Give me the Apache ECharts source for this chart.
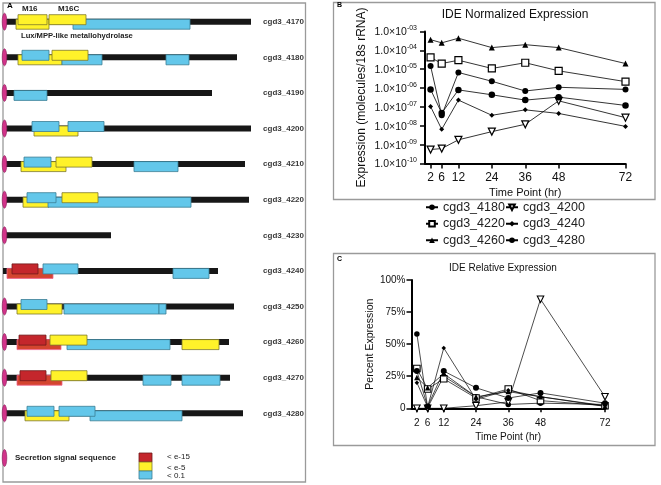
<!DOCTYPE html>
<html><head><meta charset="utf-8">
<script src="https://cdn.jsdelivr.net/npm/echarts@6/dist/echarts.min.js"></script>
<style>html,body{margin:0;padding:0;background:#fff}#c{width:661px;height:485px}</style>
</head><body><div id="c"></div>
<script>
// ---------- Panel A: gene diagrams ----------
const genes = ['cgd3_4170','cgd3_4180','cgd3_4190','cgd3_4200','cgd3_4210','cgd3_4220','cgd3_4230','cgd3_4240','cgd3_4250','cgd3_4260','cgd3_4270','cgd3_4280'];
const backboneStart = [0,0,0,0,0,0,0,-2,0,0,0,0];
const backboneEnd   = [246,232,207,246,240,244,106,213,229,224,225,238];
const signalRows = [0,1,2,3,4,5,6,8,9,10,11];
// [start, end, geneRow, class] class: 0 = < e-15, 1 = < e-5, 2 = < 0.1
const lowerDomains = [
  [11,44,0,1],[68,185,0,2],
  [13,57,1,1],[57,97,1,2],[161,184,1,2],
  [9,42,2,2],
  [29,73,3,1],
  [16,61,4,1],[129,173,4,2],
  [18,44,5,1],[43,186,5,2],
  [2,48,7,0],[168,204,7,2],
  [12,57,8,1],[59,154,8,2],[154,161,8,2],
  [12,56,9,0],[62,165,9,2],[177,214,9,1],
  [12,57,10,0],[138,166,10,2],[177,215,10,2],
  [20,64,11,1],[85,177,11,2]
];
const upperDomains = [
  [13,42,0,1],[44,81,0,1],
  [17,44,1,2],[47,83,1,1],
  [27,54,3,2],[63,99,3,2],
  [19,46,4,2],[51,87,4,1],
  [22,51,5,2],[57,93,5,1],
  [7,33,7,0],[38,73,7,2],
  [16,42,8,2],
  [14,41,9,0],[45,82,9,1],
  [15,41,10,0],[46,82,10,1],
  [22,49,11,2],[54,90,11,2]
];
// ---------- Panels B & C ----------
const timePoints = [2,6,12,24,36,48,72];
const seriesNames = ['cgd3_4180','cgd3_4200','cgd3_4220','cgd3_4240','cgd3_4260','cgd3_4280'];
const norm4180 = [1.5e-5, 3.6e-8, 6.7e-6, 2.3e-6, 7e-7, 1.1e-6, 8.5e-7];
const norm4200 = [5.5e-10, 6.2e-10, 1.8e-9, 4.9e-9, 1.2e-8, 2.1e-7, 2.7e-8];
const norm4220 = [4.2e-5, 2e-5, 3e-5, 1.1e-5, 2.2e-5, 8.2e-6, 2.2e-6];
const norm4240 = [1.05e-7, 6.5e-9, 2.3e-7, 3.6e-8, 7e-8, 4.5e-8, 9.3e-9];
const norm4260 = [3.7e-4, 2.5e-4, 4.4e-4, 1.4e-4, 2e-4, 1.4e-4, 2e-5];
const norm4280 = [8.5e-7, 4.7e-8, 8e-7, 4.4e-7, 2.3e-7, 3.3e-7, 1.2e-7];
const rel4180 = [58, 0.5, 25, 9, 3, 4, 3];
const rel4200 = [0, 0, 0, 2, 5, 85, 9];
const rel4220 = [31, 15, 23, 8, 15, 6, 2];
const rel4240 = [20, 1, 47, 7, 14, 9, 2];
const rel4260 = [24, 16, 27, 9, 13, 9, 1.5];
const rel4280 = [29, 1.5, 29, 16, 8, 12, 4];

const normData = [norm4180,norm4200,norm4220,norm4240,norm4260,norm4280];
const relData = [rel4180,rel4200,rel4220,rel4240,rel4260,rel4280];
const markers = [
  {symbol:'circle', size:6, fill:'#000', rot:0},
  {symbol:'triangle', size:7, fill:'#fff', rot:180},
  {symbol:'rect', size:7, fill:'#fff', rot:0},
  {symbol:'diamond', size:5, fill:'#000', rot:0},
  {symbol:'triangle', size:6, fill:'#000', rot:0},
  {symbol:'circle', size:6.5, fill:'#000', rot:0}
];
const FONT = '"Liberation Sans", Arial, sans-serif';

const upperStyle = {
  0:{fill:'#C4262C', stroke:'#6e1a1a'},
  1:{fill:'#FFF22A', stroke:'#7d782c'},
  2:{fill:'#63C7EA', stroke:'#3b7d94'}
};
const lowerStyle = {
  0:{fill:'#D4452F', stroke:'#F0628E'},
  1:{fill:'#FFF22A', stroke:'#7d782c'},
  2:{fill:'#63C7EA', stroke:'#3b7d94'}
};
function domainRenderer(offset, styles){
  return function(params, api){
    const s = api.coord([api.value(0), api.value(2)]);
    const e = api.coord([api.value(1), api.value(2)]);
    const st = styles[api.value(3)];
    return {type:'rect', shape:{x:s[0], y:s[1]+offset, width:e[0]-s[0], height:10},
      style:{fill:st.fill, stroke:st.stroke, lineWidth:0.8}};
  };
}

const series = [];
series.push({
  type:'custom', xAxisIndex:0, yAxisIndex:0, silent:true,
  data: genes.map((g,i)=>[backboneStart[i], backboneEnd[i], i]),
  encode:{x:[0,1], y:2},
  renderItem:function(params, api){
    const s = api.coord([api.value(0), api.value(2)]);
    const e = api.coord([api.value(1), api.value(2)]);
    return {type:'rect', shape:{x:s[0], y:s[1]-3, width:e[0]-s[0], height:6}, style:{fill:'#171717'}};
  }
});
series.push({type:'custom', xAxisIndex:0, yAxisIndex:0, silent:true, data:lowerDomains, encode:{x:[0,1], y:2}, renderItem:domainRenderer(-2.5, lowerStyle)});
series.push({type:'custom', xAxisIndex:0, yAxisIndex:0, silent:true, data:upperDomains, encode:{x:[0,1], y:2}, renderItem:domainRenderer(-7, upperStyle)});
series.push({
  type:'custom', xAxisIndex:0, yAxisIndex:0, silent:true,
  data: signalRows.map(r=>[0, r]),
  encode:{x:0, y:1},
  renderItem:function(params, api){
    const c = api.coord([api.value(0), api.value(1)]);
    return {type:'circle', x:c[0]-0.5, y:c[1], scaleX:0.27, shape:{cx:0, cy:0, r:8.5},
      style:{fill:'#D2338A', stroke:'#8c1f5c', lineWidth:1}};
  }
});
seriesNames.forEach((n,k)=>{
  const m = markers[k];
  series.push({
    name:n, type:'line', xAxisIndex:1, yAxisIndex:1,
    data: timePoints.map((t,i)=>[t, normData[k][i]]),
    symbol:m.symbol, symbolSize:m.size, symbolRotate:m.rot, showAllSymbol:true,
    lineStyle:{color:'#000', width:0.8},
    itemStyle:{color:m.fill, borderColor:'#000', borderWidth: m.fill==='#fff'?1.2:0},
    emphasis:{disabled:true}, animation:false
  });
  series.push({
    name:n, type:'line', xAxisIndex:2, yAxisIndex:2,
    data: timePoints.map((t,i)=>[t, relData[k][i]]),
    symbol:m.symbol, symbolSize:m.size-0.5, symbolRotate:m.rot, showAllSymbol:true,
    lineStyle:{color:'#000', width:0.7},
    itemStyle:{color:m.fill, borderColor:'#000', borderWidth: m.fill==='#fff'?1.1:0},
    emphasis:{disabled:true}, animation:false
  });
});

function expLabel(v){
  const e = Math.round(Math.log10(v));
  const s = (e<0?'-':'+') + String(Math.abs(e)).padStart(2,'0');
  return '{b|1.0×10}{s|' + s + '}';
}

const option = {
  animation:false,
  textStyle:{fontFamily:FONT},
  grid:[
    {left:5, top:3.9, width:300, height:427.2},
    {left:425, top:31.5, width:200.5, height:132},
    {left:411.5, top:280, width:193.5, height:128.3}
  ],
  xAxis:[
    {gridIndex:0, type:'value', min:0, max:300, show:false},
    {gridIndex:1, type:'value', min:0, max:72,
      axisLine:{show:true, onZero:false, lineStyle:{color:'#000', width:2}},
      axisTick:{show:true, length:5, customValues:timePoints, lineStyle:{color:'#000', width:1.5}},
      axisLabel:{customValues:timePoints, fontSize:12, color:'#111', margin:8},
      splitLine:{show:false},
      name:'Time Point (hr)', nameLocation:'middle', nameGap:24,
      nameTextStyle:{fontSize:11, color:'#111'}},
    {gridIndex:2, type:'value', min:0, max:72,
      axisLine:{show:true, onZero:false, lineStyle:{color:'#000', width:2}},
      axisTick:{show:true, length:4, customValues:timePoints, lineStyle:{color:'#000', width:1.5}},
      axisLabel:{customValues:timePoints, fontSize:10, color:'#111', margin:10},
      splitLine:{show:false},
      name:'Time Point (hr)', nameLocation:'middle', nameGap:24,
      nameTextStyle:{fontSize:10, color:'#111'}}
  ],
  yAxis:[
    {gridIndex:0, type:'category', data:genes, inverse:true, position:'right',
      axisLine:{show:false}, axisTick:{show:false},
      axisLabel:{inside:true, margin:1, fontSize:8, fontWeight:'bold', color:'#3a3a3a'}},
    {gridIndex:1, type:'log', logBase:10, min:1e-10, max:1e-3, splitNumber:7,
      axisLine:{show:true, onZero:false, lineStyle:{color:'#000', width:2}},
      axisTick:{show:true, length:5, lineStyle:{color:'#000', width:1.5}},
      axisLabel:{formatter:expLabel, margin:8, color:'#111',
        rich:{b:{fontSize:10.5, color:'#111', verticalAlign:'bottom', lineHeight:13},
              s:{fontSize:7, color:'#111', verticalAlign:'top', lineHeight:13, padding:[0,0,5,0]}}},
      splitLine:{show:false},
      name:'Expression (molecules/18s rRNA)', nameLocation:'middle', nameGap:57,
      nameTextStyle:{fontSize:12, color:'#111'}},
    {gridIndex:2, type:'value', min:0, max:100, interval:25,
      axisLine:{show:true, onZero:false, lineStyle:{color:'#000', width:2}},
      axisTick:{show:true, length:5, lineStyle:{color:'#000', width:1.5}},
      axisLabel:{formatter:v=>v===0?'0':v+'%', fontSize:10, color:'#111', margin:6},
      splitLine:{show:false},
      name:'Percent Expression', nameLocation:'middle', nameGap:35,
      nameTextStyle:{fontSize:10.5, color:'#111'}}
  ],
  legend:{
    data:seriesNames, left:425, top:199, width:175, padding:0,
    itemWidth:12, itemHeight:7, itemGap:0, selectedMode:false,
    textStyle:{fontSize:12.5, color:'#222', width:62, lineHeight:16.5}
  },
  graphic:[
    {type:'rect', shape:{x:3, y:3, width:302.5, height:479}, style:{fill:'none', stroke:'#9a9a9a', lineWidth:1.3}, silent:true},
    {type:'rect', shape:{x:333.5, y:2.5, width:321.5, height:197}, style:{fill:'none', stroke:'#9a9a9a', lineWidth:1.3}, silent:true},
    {type:'rect', shape:{x:333.5, y:253.5, width:321.5, height:192}, style:{fill:'none', stroke:'#9a9a9a', lineWidth:1.3}, silent:true},
    {type:'text', x:7, y:2, style:{text:'A', font:'bold 8px '+FONT, fill:'#000'}},
    {type:'text', x:337, y:2, style:{text:'B', font:'bold 7px '+FONT, fill:'#000'}},
    {type:'text', x:337, y:256, style:{text:'C', font:'bold 7px '+FONT, fill:'#000'}},
    {type:'text', x:22, y:5, style:{text:'M16', font:'bold 8px '+FONT, fill:'#222'}},
    {type:'text', x:58, y:5, style:{text:'M16C', font:'bold 8px '+FONT, fill:'#222'}},
    {type:'text', x:21, y:32, style:{text:'Lux/MPP-like metallohydrolase', font:'bold 7.6px '+FONT, fill:'#222'}},
    {type:'circle', x:4.5, y:458, scaleX:0.27, shape:{cx:0, cy:0, r:8.5}, style:{fill:'#D2338A', stroke:'#8c1f5c', lineWidth:1}},
    {type:'text', x:15, y:454, style:{text:'Secretion signal sequence', font:'bold 8px '+FONT, fill:'#222'}},
    {type:'rect', shape:{x:139, y:453, width:13, height:9}, style:{fill:'#C4262C', stroke:'#6e1a1a', lineWidth:0.8}},
    {type:'rect', shape:{x:139, y:462, width:13, height:9}, style:{fill:'#FFF22A', stroke:'#7d782c', lineWidth:0.8}},
    {type:'rect', shape:{x:139, y:471, width:13, height:8}, style:{fill:'#63C7EA', stroke:'#3b7d94', lineWidth:0.8}},
    {type:'text', x:167, y:453, style:{text:'< e-15', font:'8px '+FONT, fill:'#222'}},
    {type:'text', x:167, y:464, style:{text:'< e-5', font:'8px '+FONT, fill:'#222'}},
    {type:'text', x:167, y:472, style:{text:'< 0.1', font:'8px '+FONT, fill:'#222'}},
    {type:'text', x:515, y:15, style:{text:'IDE Normalized Expression', font:'12px '+FONT, fill:'#111', align:'center', verticalAlign:'middle'}},
    {type:'text', x:503, y:268, style:{text:'IDE Relative Expression', font:'10px '+FONT, fill:'#111', align:'center', verticalAlign:'middle'}}
  ],
  series:series
};
const chart = echarts.init(document.getElementById('c'), null, {renderer:'canvas'});
chart.setOption(option);
</script>
</body></html>
